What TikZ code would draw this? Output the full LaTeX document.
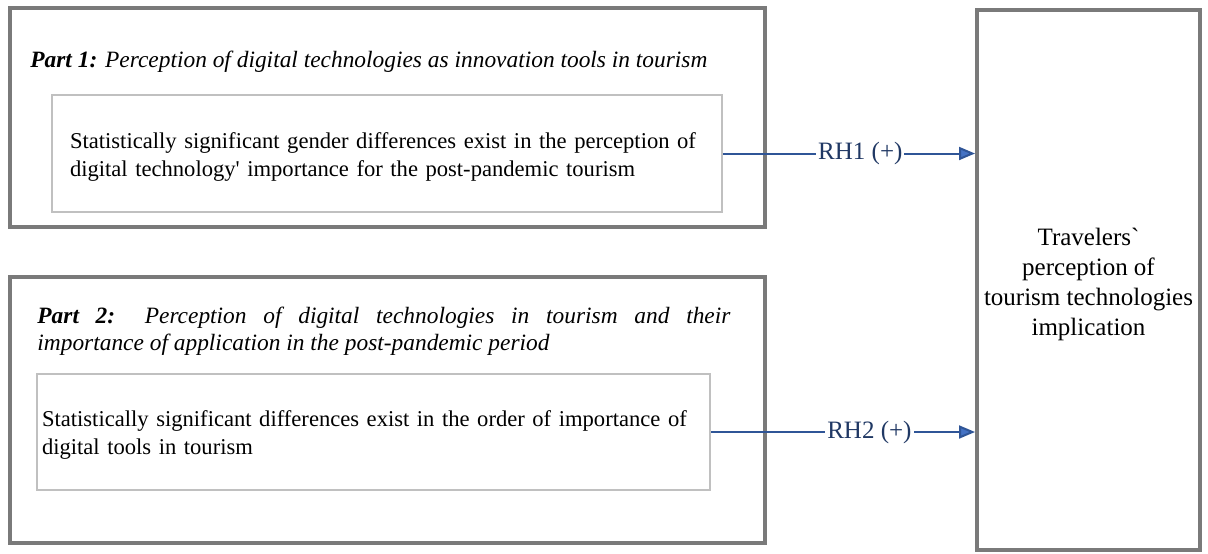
\documentclass[tikz,border=0pt]{standalone}
\usepackage{fontspec}
\setmainfont{Liberation Serif}[Ligatures=TeXOff]
\usetikzlibrary{arrows.meta,positioning}
\definecolor{outergray}{HTML}{7A7A7A}
\definecolor{innergray}{HTML}{C0C0C0}
\definecolor{linkblue}{HTML}{2F5597}
\definecolor{tipblue}{HTML}{4472C4}
\definecolor{rhblue}{HTML}{203864}

\begin{document}
\begin{tikzpicture}[x=0.5pt,y=-0.5pt,
    partbox/.style={draw=outergray, line width=2pt, inner sep=0pt},
    hypbox/.style={draw=innergray, line width=1pt, align=left, anchor=center,
        font=\fontsize{11.3}{14}\selectfont},
    link/.style={draw=linkblue, line width=1pt, -{Triangle[length=8pt,width=6.5pt,fill=tipblue]}},
    rh/.style={fill=white, text=rhblue, inner sep=1pt, font=\fontsize{12.5}{14}\selectfont}]

    \useasboundingbox (0,0) rectangle (1208,553);

    % outer frames
    \node[partbox, minimum width=377.5pt, minimum height=109.5pt] (part1) at (387.5,117.5) {};
    \node[partbox, minimum width=377.5pt, minimum height=133pt] (part2) at (387.5,410) {};
    \node[partbox, minimum width=111.5pt, minimum height=270pt, align=center,
        font=\fontsize{12.5}{15}\selectfont] (trav) at (1088.5,280)
        {\rule{0pt}{13pt}Travelers`\\ perception of\\ tourism technologies\\ implication};

    % part titles
    \node[anchor=west, inner sep=0pt, font=\fontsize{11.7}{14}\selectfont] (title1) at (30,62)
        {\textbf{\textit{Part 1:}} \textit{Perception of digital technologies as innovation tools in tourism}};
    \node[anchor=north west, inner sep=0pt, text width=346.5pt, align=justify,
        font=\fontsize{11.7}{13.5}\selectfont] (title2) at (37,307)
        {\textbf{\textit{Part 2:}} \textit{Perception of digital technologies in tourism and their\linebreak importance of application in the post-pandemic period}};

    % hypotheses
    \node[hypbox, text width=317pt, inner xsep=9pt, minimum height=58.5pt] (hyp1) at (387,153.5)
        {\rule{0pt}{11pt}Statistically significant gender differences exist in the perception of\\ digital technology' importance for the post-pandemic tourism};
    \node[hypbox, text width=331.5pt, inner xsep=2.5pt, minimum height=58pt] (hyp2) at (373.5,432)
        {\rule{0pt}{11pt}Statistically significant differences exist in the order of importance of\\ digital tools in tourism};

    % links
    \draw[link] (hyp1.east) -- node[rh, pos=0.545] (rh1) {RH1 (+)} (hyp1.east -| trav.west);
    \draw[link] (hyp2.east) -- node[rh, pos=0.6] (rh2) {RH2 (+)} (hyp2.east -| trav.west);

\end{tikzpicture}
\end{document}
